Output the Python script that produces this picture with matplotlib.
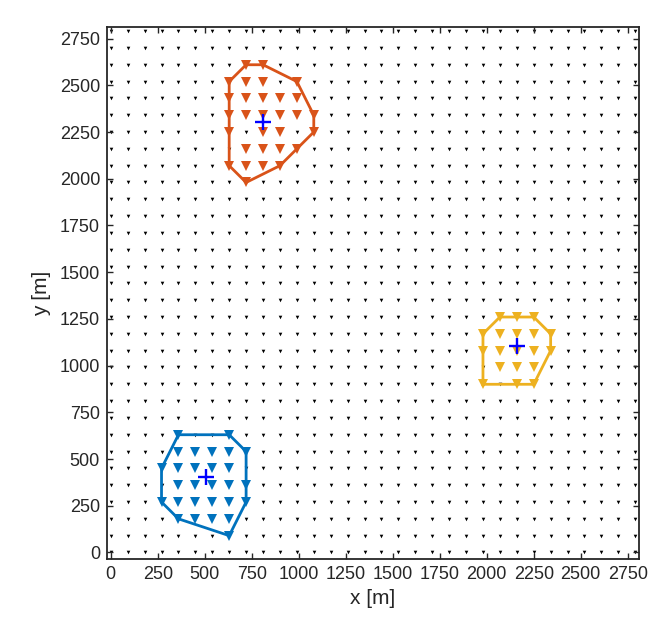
import numpy as np
import matplotlib
matplotlib.use("Agg")
import matplotlib.pyplot as plt

plt.rcParams['font.family'] = ['Liberation Sans', 'DejaVu Sans']

# background grid of candidate points
grid_step = 90
grid_count = 32

# cluster members (metres)
blue_x = [360, 630,
          360, 450, 540, 630, 720,
          270, 360, 450, 540, 630,
          360, 450, 540, 630, 720,
          270, 360, 450, 540, 630, 720,
          360, 450, 540, 630,
          630]
blue_y = [630, 630,
          540, 540, 540, 540, 540,
          450, 450, 450, 450, 450,
          360, 360, 360, 360, 360,
          270, 270, 270, 270, 270, 270,
          180, 180, 180, 180,
          90]

red_x = [720, 810,
         630, 720, 810, 990,
         630, 720, 810, 900, 990,
         630, 720, 810, 900, 990, 1080,
         630, 810, 900, 1080,
         720, 810, 900, 990,
         630, 720, 810, 900,
         720]
red_y = [2610, 2610,
         2520, 2520, 2520, 2520,
         2430, 2430, 2430, 2430, 2430,
         2340, 2340, 2340, 2340, 2340, 2340,
         2250, 2250, 2250, 2250,
         2160, 2160, 2160, 2160,
         2070, 2070, 2070, 2070,
         1980]

yellow_x = [2070, 2160, 2250,
            1980, 2070, 2160, 2250, 2340,
            1980, 2070, 2160, 2250, 2340,
            2070, 2160, 2250,
            1980, 2160, 2250]
yellow_y = [1260, 1260, 1260,
            1170, 1170, 1170, 1170, 1170,
            1080, 1080, 1080, 1080, 1080,
            990, 990, 990,
            900, 900, 900]

# cluster centres
centre_x = [509, 810, 2161]
centre_y = [403, 2302, 1104]

ticks = [0, 250, 500, 750, 1000, 1250, 1500, 1750, 2000, 2250, 2500, 2750]

colors = ['#0072BD', '#D95319', '#EDB120']


def convex_hull(xs, ys):
    pts = sorted(set(zip(xs, ys)))
    def cross(o, a, b):
        return (a[0]-o[0])*(b[1]-o[1]) - (a[1]-o[1])*(b[0]-o[0])
    lower = []
    for p in pts:
        while len(lower) >= 2 and cross(lower[-2], lower[-1], p) <= 0:
            lower.pop()
        lower.append(p)
    upper = []
    for p in reversed(pts):
        while len(upper) >= 2 and cross(upper[-2], upper[-1], p) <= 0:
            upper.pop()
        upper.append(p)
    hull = lower[:-1] + upper[:-1]
    hull.append(hull[0])
    return [h[0] for h in hull], [h[1] for h in hull]


fig = plt.figure(figsize=(6.64, 6.38), dpi=100)
ax = fig.add_axes([107/664, (638-559)/638, (639-107)/664, (559-27)/638])

g = np.arange(grid_count) * grid_step
gx, gy = np.meshgrid(g, g)
ax.plot(gx.ravel(), gy.ravel(), 'v', color='black', markersize=2.6,
        markeredgewidth=0, zorder=1)

for xs, ys, c in [(blue_x, blue_y, colors[0]), (red_x, red_y, colors[1]),
                  (yellow_x, yellow_y, colors[2])]:
    hx, hy = convex_hull(xs, ys)
    ax.plot(hx, hy, '-', color=c, linewidth=2.0, zorder=2)
    ax.plot(xs, ys, 'v', color=c, markersize=7.5, markeredgewidth=0, zorder=3)

ax.plot(centre_x, centre_y, '+', color='blue', markersize=12,
        markeredgewidth=1.7, zorder=4)

ax.set_xlim(-20, 2810)
ax.set_ylim(-35, 2812)
ax.set_xticks(ticks)
ax.set_yticks(ticks)
ax.tick_params(direction='in', length=4, width=1.0, top=True, right=True,
               labelsize=13, colors='#262626', pad=5)
for s in ax.spines.values():
    s.set_linewidth(1.3)
    s.set_color('#262626')

ax.set_xlabel('x [m]', fontsize=15, color='#262626', labelpad=4)
ax.set_ylabel('y [m]', fontsize=15, color='#262626', labelpad=6)

fig.savefig('out.png', dpi=100)
